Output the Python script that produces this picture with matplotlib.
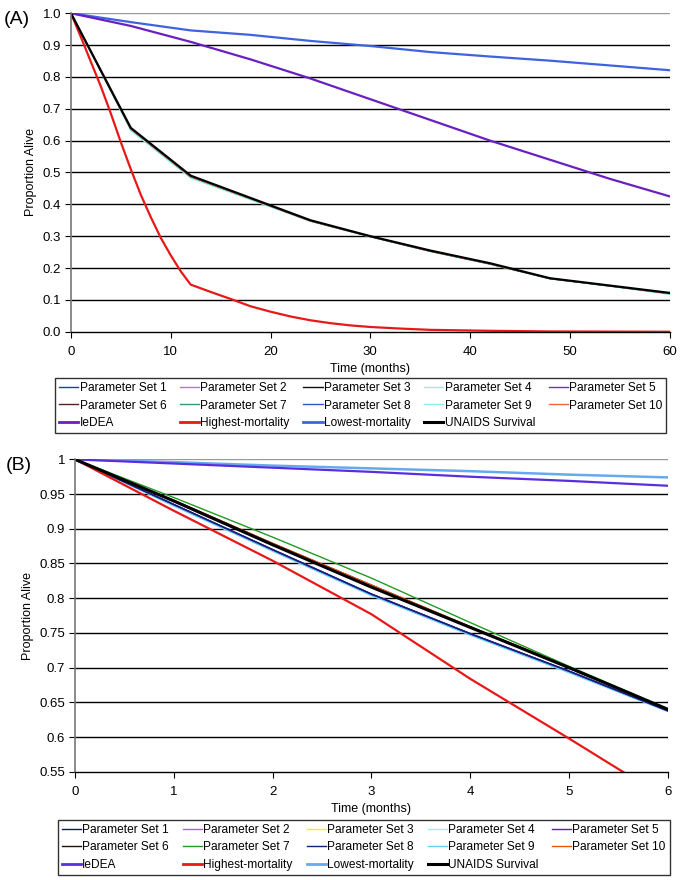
import numpy as np
import matplotlib
matplotlib.use("Agg")
import matplotlib.pyplot as plt
from matplotlib.lines import Line2D

plt.rcParams["font.family"] = ["Liberation Sans", "DejaVu Sans"]

# ---------------- Panel A (0-60 months) ----------------
t_a = [0, 6, 12, 18, 24, 30, 36, 42, 48, 54, 60]
unaids_a = [1.0, 0.64, 0.49, 0.42, 0.35, 0.30, 0.255, 0.215, 0.168, 0.145, 0.122]
psets_near_a = [1.0, 0.637, 0.487, 0.418, 0.348, 0.299, 0.253, 0.213, 0.167, 0.144, 0.120]
psets_low_a = [1.0, 0.632, 0.483, 0.415, 0.347, 0.298, 0.252, 0.212, 0.166, 0.143, 0.118]
ledea_a = [1.0, 0.96, 0.91, 0.855, 0.795, 0.73, 0.665, 0.60, 0.54, 0.48, 0.425]
lowest_a = [1.0, 0.972, 0.946, 0.932, 0.913, 0.897, 0.878, 0.864, 0.851, 0.836, 0.821]

t_red_a = [0, 1, 2, 3, 4, 5, 6, 7, 8, 9, 10, 11, 12, 14, 16, 18, 20, 22, 24,
           26, 28, 30, 33, 36, 42, 48, 54, 60]
highest_a = [1.0, 0.925, 0.847, 0.77, 0.685, 0.595, 0.51, 0.43, 0.36, 0.295, 0.24,
             0.19, 0.148, 0.125, 0.103, 0.08, 0.063, 0.048, 0.036, 0.027, 0.02,
             0.015, 0.01, 0.006, 0.003, 0.001, 0.0005, 0.0]

# ---------------- Panel B (0-6 months) ----------------
t_b = [0, 1, 2, 3, 4, 5, 6]
unaids_b = [1.0, 0.94, 0.877, 0.816, 0.758, 0.70, 0.64]
ps7_b = [1.0, 0.945, 0.888, 0.829, 0.765, 0.702, 0.641]
ps_near_b = [1.0, 0.941, 0.879, 0.819, 0.759, 0.701, 0.640]
ps_low_b = [1.0, 0.935, 0.870, 0.806, 0.749, 0.695, 0.638]
ps_low2_b = [1.0, 0.933, 0.868, 0.804, 0.747, 0.693, 0.637]
highest_b = [1.0, 0.926, 0.854, 0.777, 0.684, 0.598, 0.51]
lowest_b = [1.0, 0.996, 0.991, 0.987, 0.983, 0.978, 0.974]
ledea_b = [1.0, 0.994, 0.988, 0.982, 0.975, 0.969, 0.962]

labels = [f"Parameter Set {i}" for i in range(1, 11)] + \
    ["IeDEA", "Highest-mortality", "Lowest-mortality", "UNAIDS Survival"]

colors_a = ["#1f3f9f", "#cc66ee", "#111111", "#99eedd", "#6633cc",
            "#552222", "#339977", "#3355cc", "#88eeee", "#ee6633",
            "#6a1fc0", "#e81818", "#3f63e0", "#000000"]
colors_b = ["#0a1a66", "#bb55ee", "#ffee00", "#99eeee", "#5522bb",
            "#221100", "#229922", "#0a2277", "#66ccee", "#ee5511",
            "#5a2ee0", "#e81818", "#66aaee", "#000000"]

fig = plt.figure(figsize=(6.82, 8.80), dpi=100)


def style_axes(ax, ymin, ymax, yticks, ylabels, xticks):
    ax.set_ylim(ymin, ymax)
    ax.set_yticks(yticks)
    ax.set_yticklabels(ylabels, fontsize=9.5)
    ax.set_xticks(xticks)
    ax.tick_params(axis="x", labelsize=9.5, length=4, direction="out", pad=6)
    ax.tick_params(axis="y", length=4, direction="out", pad=3)
    for y in yticks[1:]:
        ax.axhline(y, color="#999999" if y == yticks[-1] else "black",
                   lw=1.0, zorder=0)
    for s in ["top", "right"]:
        ax.spines[s].set_visible(False)
    ax.spines["left"].set_color("#777777")
    ax.spines["left"].set_linewidth(1.2)
    ax.spines["bottom"].set_linewidth(1.0)
    ax.set_xlabel("Time (months)", fontsize=9, labelpad=4)
    ax.set_ylabel("Proportion Alive", fontsize=9, labelpad=4)


def add_legend(ax, colors, box):
    handles = []
    for i, (lab, c) in enumerate(zip(labels, colors)):
        lw = 2.0 if i >= 10 else 1.0
        if i == 13:
            lw = 2.2
        handles.append(Line2D([], [], color=c, lw=lw, label=lab))
    # matplotlib fills legend columns first: reorder so rows read like the source
    order = [0, 5, 10, 1, 6, 11, 2, 7, 12, 3, 8, 13, 4, 9]
    hs = [handles[i] for i in order]
    leg = fig.legend(handles=hs, loc="center", bbox_to_anchor=box, ncol=5,
                     fontsize=8.6, frameon=True, fancybox=False, edgecolor="black",
                     handlelength=1.6, handletextpad=0.1, columnspacing=1.2,
                     labelspacing=0.45, borderpad=0.35, mode="expand")
    leg.get_frame().set_linewidth(1.0)


# Panel A
axA = fig.add_axes([0.104, 0.623, 0.878, 0.362])
axA.set_xlim(0, 60)
axA.plot(t_a, psets_low_a, color=colors_a[3], lw=1.0)
axA.plot(t_a, psets_low_a, color=colors_a[8], lw=1.0)
axA.plot(t_a, psets_near_a, color=colors_a[0], lw=1.0)
axA.plot(t_a, psets_near_a, color=colors_a[6], lw=1.0)
axA.plot(t_a, psets_near_a, color=colors_a[9], lw=1.0)
axA.plot(t_a, lowest_a, color=colors_a[12], lw=1.6)
axA.plot(t_a, ledea_a, color=colors_a[10], lw=1.6)
axA.plot(t_red_a, highest_a, color=colors_a[11], lw=1.6)
axA.plot(t_a, unaids_a, color=colors_a[13], lw=1.6)
style_axes(axA, 0.0, 1.0, [0.0, 0.1, 0.2, 0.3, 0.4, 0.5, 0.6, 0.7, 0.8, 0.9, 1.0],
           [f"{v:.1f}" for v in np.arange(0, 1.01, 0.1)], [0, 10, 20, 30, 40, 50, 60])
fig.text(0.006, 0.978, "(A)", fontsize=14, va="center", ha="left")
add_legend(axA, colors_a, (0.072, 0.509, 0.914, 0.060))

# Panel B
axB = fig.add_axes([0.110, 0.123, 0.869, 0.355])
axB.set_xlim(0, 6)
axB.plot(t_b, ps_low2_b, color=colors_b[3], lw=1.0)
axB.plot(t_b, ps_low2_b, color=colors_b[8], lw=1.0)
axB.plot(t_b, ps_low_b, color=colors_b[0], lw=1.0)
axB.plot(t_b, ps_low_b, color=colors_b[1], lw=1.0)
axB.plot(t_b, ps_low_b, color=colors_b[4], lw=1.0)
axB.plot(t_b, ps_low_b, color=colors_b[7], lw=1.0)
axB.plot(t_b, ps_near_b, color=colors_b[5], lw=1.0)
axB.plot(t_b, ps_near_b, color=colors_b[9], lw=1.0)
axB.plot(t_b, ps7_b, color=colors_b[6], lw=1.0)
axB.plot(t_b, lowest_b, color=colors_b[12], lw=1.8)
axB.plot(t_b, ledea_b, color=colors_b[10], lw=1.6)
axB.plot(t_b, highest_b, color=colors_b[11], lw=1.6)
axB.plot(t_b, unaids_b, color=colors_b[13], lw=2.2)
yb = [0.55, 0.6, 0.65, 0.7, 0.75, 0.8, 0.85, 0.9, 0.95, 1.0]
style_axes(axB, 0.55, 1.0, yb, [f"{v:g}" for v in yb], [0, 1, 2, 3, 4, 5, 6])
fig.text(0.008, 0.471, "(B)", fontsize=14, va="center", ha="left")
add_legend(axB, colors_b, (0.076, 0.007, 0.915, 0.060))

fig.savefig("out.png", dpi=100, facecolor="white")
